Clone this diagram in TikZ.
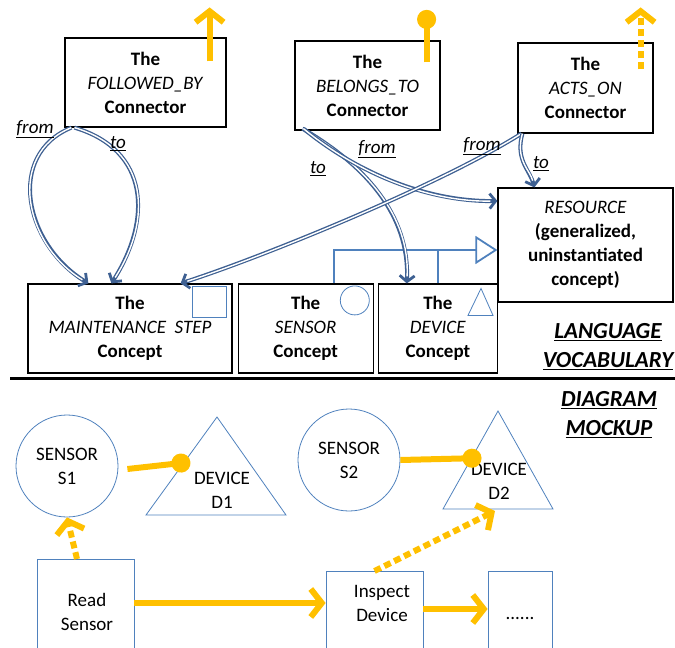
\documentclass[tikz,border=0pt]{standalone}
\usepackage{fontspec}
\setmainfont{Carlito}
\usetikzlibrary{positioning,arrows.meta,calc}
\definecolor{LinkBlue}{RGB}{62,96,146}
\definecolor{IconBlue}{RGB}{79,129,189}
\definecolor{MockGold}{RGB}{255,192,0}
\tikzset{
  vocab/.style={draw=black,line width=1.2pt,align=center,inner sep=2pt,
    font=\fontsize{19}{24}\selectfont},
  mockbox/.style={draw=IconBlue,line width=0.8pt,inner sep=0pt},
  mocktext/.style={align=center,inner sep=0pt,font=\fontsize{19}{24}\selectfont},
  link/.style={draw=LinkBlue,line width=4pt,
    -{Straight Barb[length=6pt,width=15pt,line width=2.8pt]},
    postaction={draw=white,line width=1.4pt,-,shorten >=7pt}},
  role/.style={inner sep=1pt,font=\fontsize{19}{22}\selectfont\itshape},
  icon/.style={draw=IconBlue,line width=0.8pt},
  genline/.style={draw=IconBlue,line width=1.8pt},
  gold/.style={draw=MockGold,line width=6pt,-{Straight Barb[length=11pt,width=28pt]}},
  golddash/.style={gold,dash pattern=on 7pt off 4pt},
  goldpin/.style={draw=MockGold,line width=6pt,-{Circle[length=19pt]}},
  heading/.style={align=center,inner sep=0pt,font=\fontsize{23}{29}\selectfont\bfseries\itshape}
}

\begin{document}
\begin{tikzpicture}[x=1pt,y=-1pt,node distance=5pt]
  \useasboundingbox (0,0) rectangle (675,648);
  \clip (0,0) rectangle (675,648);
  % language vocabulary
  \node[vocab,minimum width=161,minimum height=89] (fb) at (145.5,82.5)
    {\textbf{The}\\\textit{FOLLOWED\_BY}\\\textbf{Connector}};
  \node[vocab,minimum width=145,minimum height=89] (bt) at (367.5,85.5)
    {\textbf{The}\\\textit{BELONGS\_TO}\\\textbf{Connector}};
  \node[vocab,minimum width=135,minimum height=90] (ao) at (585.5,88)
    {\textbf{The}\\\textit{ACTS\_ON}\\\textbf{Connector}};
  \node[vocab,minimum width=175,minimum height=114] (rs) at (585.5,245)
    {\textit{RESOURCE}\\\textbf{(generalized,}\\\textbf{uninstantiated}\\\textbf{concept)}};
  \node[vocab,minimum width=204,minimum height=89] (ms) at (130,328.5)
    {\textbf{The}\\\textit{MAINTENANCE~~STEP}\\\textbf{Concept}};
  \node[vocab,minimum width=135,minimum height=89,right=5pt of ms] (sc)
    {\textbf{The}\\\textit{SENSOR}\\\textbf{Concept}};
  \node[vocab,minimum width=119,minimum height=89,right=4pt of sc] (dc)
    {\textbf{The}\\\textit{DEVICE}\\\textbf{Concept}};

  \draw[icon] ($(ms.north east)+(-40,3)$) rectangle ++(34,31);
  \draw[icon] ($(sc.north east)+(-19,17)$) circle (14.5);
  \draw[icon] ($(dc.north east)+(-17,5)$) -- ++(12,27) -- ++(-25,0) -- cycle;

  \draw[gold] ($(fb.north east)+(-17,24)$) -- ++(0,-54);
  \draw[goldpin] ($(bt.north east)+(-14,22)$) -- ++(0,-52.5);
  \draw[golddash] ($(ao.north east)+(-13,27)$) -- ++(0,-62);

  \draw[genline] ($(sc.north west)+(96,0)$) |- ($(rs.west)+(-28,5)$);
  \draw[genline] (dc.north) -- ++(0,-34);
  \draw[genline,-{Triangle[open,length=22pt,width=28pt,line width=1.8pt]}]
    ($(rs.west)+(-29,5)$) -- ($(rs.west)+(0,5)$);

  \draw[link] ($(fb.south west)+(7,0)$) .. controls (5,155) and (25,245) .. ($(ms.north west)+(61,0)$);
  \draw[link] ($(fb.south west)+(10,0)$) .. controls (150,150) and (152,220) .. ($(ms.north west)+(84,0)$);
  \draw[link] ($(bt.south west)+(8,-2)$) .. controls (365,165) and (410,215) .. ($(dc.north west)+(29,0)$);
  \draw[link] ($(bt.south west)+(9,-2)$) .. controls (360,175) and (430,202) .. ($(rs.west)+(0,-44)$);
  \draw[link] ($(ao.south west)+(4,0)$) .. controls (440,185) and (260,258) .. ($(ms.north east)+(-52,0)$);
  \draw[link] ($(ao.south west)+(5,0)$) .. controls (515,160) and (530,170) .. ($(rs.north west)+(37,0)$);

  \node[role] (fbfrom) at (35,129) {\underline{from}};
  \node[role] (fbto) at (118,144) {\underline{to}};
  \node[role] (btto) at (318,169) {\underline{to}};
  \node[role] (btfrom) at (377,149) {\underline{from}};
  \node[role] (aofrom) at (482,146) {\underline{from}};
  \node[role] (aoto) at (541,164) {\underline{to}};

  \node[heading] (lv) at (608,347) {\underline{LANGUAGE}\\\underline{VOCABULARY}};
  \draw[line width=3pt] (10,378) -- (675,378);
  \node[heading] (dm) at (609,415) {\underline{DIAGRAM}\\\underline{MOCKUP}};

  % diagram mockup
  \node[mocktext,draw=IconBlue,line width=0.8pt,circle,minimum size=102] (s1) at (67,466)
    {SENSOR\\S1};
  \node[mocktext,draw=IconBlue,line width=0.8pt,circle,minimum size=102] (s2) at (349,460)
    {SENSOR\\S2};
  \draw[icon] (217,417) -- (286,515) -- (146,515) -- cycle;
  \draw[icon] (498,411) -- (553,509) -- (443,509) -- cycle;
  \node[mocktext] (d1) at (222,490) {DEVICE\\D1};
  \node[mocktext] (d2) at (499,481) {DEVICE\\D2};
  \coordinate (d1pin) at (190.4,462);
  \coordinate (d2pin) at (481.5,458);
  \coordinate (d2base) at (495,511);

  \node[mockbox,minimum width=97,minimum height=110,anchor=north] (rsx) at (85.5,559) {};
  \node[mockbox,minimum width=97,minimum height=100,anchor=north] (ins) at (374.5,571) {};
  \node[mockbox,minimum width=64,minimum height=100,anchor=north] (more) at (520,571) {};
  \node[mocktext] (rsxt) at (87,612) {Read\\Sensor};
  \node[mocktext] (inst) at (382,603) {Inspect\\Device};
  \node[mocktext] (moret) at (520,618) {......};

  \draw[goldpin] ($(s1.east)+(9,3)$) -- (d1pin);
  \draw[goldpin] (s2.east) -- (d2pin);
  \draw[golddash] ($(rsx.north)+(-8.5,0)$) -- (s1.south);
  \draw[golddash] (ins.north) -- (d2base);
  \draw[gold] ($(rsx.north east)+(0,44)$) -- ($(ins.north west)+(0,32)$);
  \draw[gold] ($(ins.north east)+(0,38)$) -- ($(more.north west)+(0,38)$);
\end{tikzpicture}
\end{document}
